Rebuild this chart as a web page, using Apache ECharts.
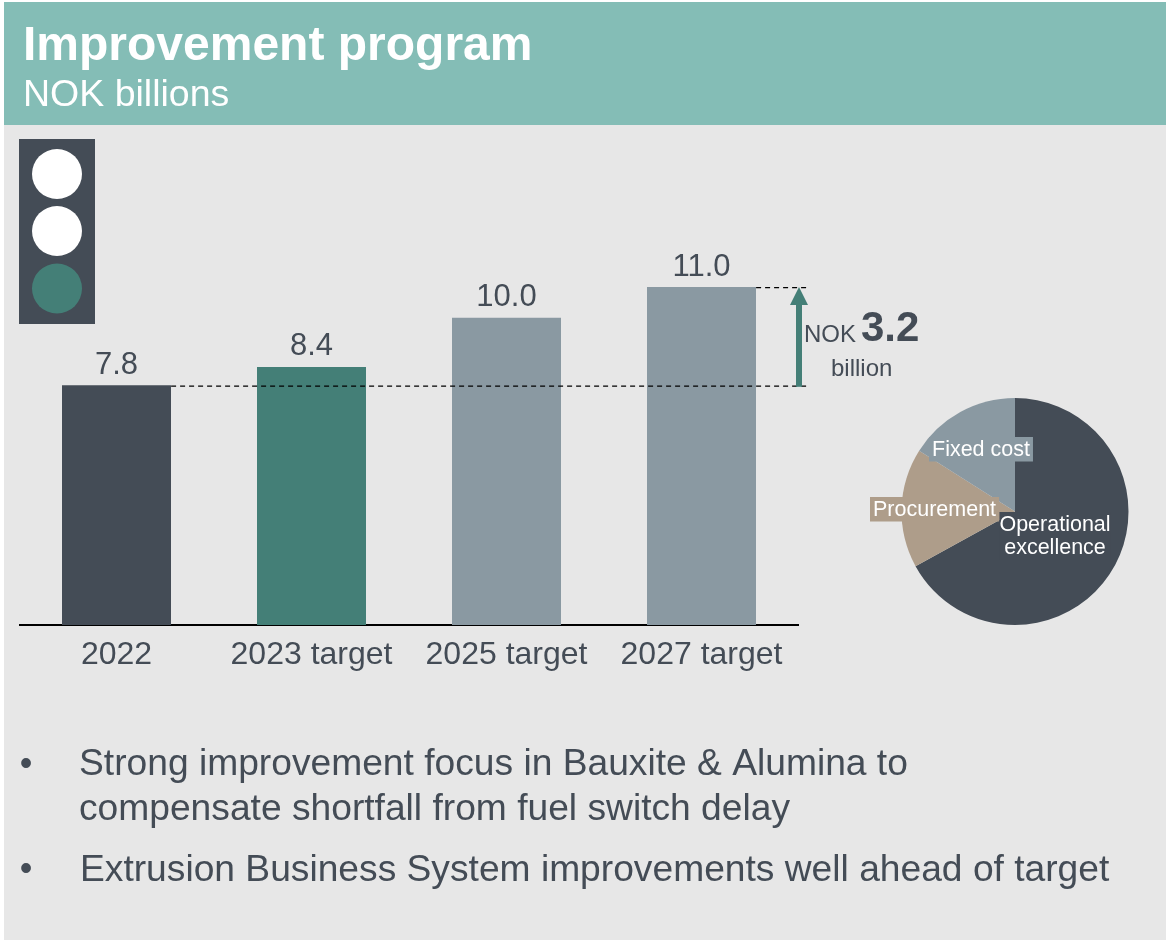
<!DOCTYPE html>
<html><head><meta charset="utf-8">
<style>html,body{margin:0;padding:0;background:#fff}#c{width:1166px;height:940px}</style>
<script src="https://cdn.jsdelivr.net/npm/echarts@6/dist/echarts.min.js"></script>
</head><body><div id="c"></div>
<script>
const categories = ['2022','2023 target','2025 target','2027 target'];
const barValues = [7.8,8.4,10.0,11.0];
const barColors = ['#444c56','#447f77','#8a99a2','#8a99a2'];
const pieNames = ['Operational\nexcellence','Procurement','Fixed cost'];
const pieValues = [67,17,16];
const pieColors = ['#444c56','#ae9d8a','#8a99a2'];
const increase = 3.2;
const FONT = '"Liberation Sans", Arial, sans-serif';
const DARK = '#444c56';

const chart = echarts.init(document.getElementById('c'), null, {renderer:'canvas'});

function guideItem(params, api){
  const from = api.value(0), val = api.value(1);
  const pt = api.coord([from, val]);
  const size = api.size([1,0])[0];
  const barHalf = size*0.28;
  const right = api.coord([3, val])[0] + size*0.5 + 9;
  const left = pt[0] + barHalf;
  return {type:'line', shape:{x1:left,y1:pt[1]+0.7,x2:right,y2:pt[1]+0.7},
    style:{stroke:'#000',lineWidth:1.3,lineDash:[5,4]}};
}
function arrowItem(params, api){
  const lo = api.coord([3, api.value(0)]);
  const hi = api.coord([3, api.value(1)]);
  const x = lo[0] + api.size([1,0])[0]*0.5;
  const top = hi[1], bot = lo[1]+1.5;
  return {type:'group', children:[
    {type:'rect', shape:{x:x-3,y:top+16,width:6,height:bot-top-16}, style:{fill:'#447f77'}},
    {type:'polygon', shape:{points:[[x,top],[x+9,top+18],[x-9,top+18]]}, style:{fill:'#447f77'}}
  ]};
}
function pieLabel(text, left, top, color){
  return {type:'text',left:left,top:top,z:20,style:{text:text,fill:'#fff',font:'21.5px '+FONT,lineHeight:23.5,
    backgroundColor:color,padding:[1,3,0,3]}};
}

chart.setOption({
  animation:false,
  backgroundColor:'#fff',
  graphic:[
    {type:'rect',z:-10,shape:{x:4,y:2,width:1162,height:938},style:{fill:'#e7e7e7'}},
    {type:'rect',z:-9,shape:{x:4,y:2,width:1162,height:123},style:{fill:'#84bdb6'}},
    {type:'text',left:23,top:23,style:{text:'Improvement program',fill:'#fff',font:'bold 48px '+FONT}},
    {type:'text',left:23,top:77,style:{text:'NOK billions',fill:'#fff',font:'37.5px '+FONT}},
    {type:'rect',z:-8,shape:{x:19,y:139,width:76,height:185},style:{fill:DARK}},
    {type:'circle',shape:{cx:57,cy:174,r:25},style:{fill:'#fff'}},
    {type:'circle',shape:{cx:57,cy:231,r:25},style:{fill:'#fff'}},
    {type:'circle',shape:{cx:57,cy:288.5,r:25},style:{fill:'#447f77'}},
    {type:'text',left:804,top:323,style:{text:'NOK',fill:DARK,font:'24px '+FONT}},
    {type:'text',left:861,top:308,style:{text:String(increase),fill:DARK,font:'bold 42px '+FONT}},
    {type:'text',left:831,top:357,style:{text:'billion',fill:DARK,font:'24px '+FONT}},
    {type:'text',left:19.7,top:747,style:{text:'•',fill:DARK,font:'36px '+FONT}},
    {type:'text',left:79,top:742,style:{text:'Strong improvement focus in Bauxite & Alumina to\ncompensate shortfall from fuel switch delay',fill:DARK,font:'37.2px '+FONT,lineHeight:45}},
    {type:'text',left:19.7,top:852,style:{text:'•',fill:DARK,font:'36px '+FONT}},
    {type:'text',left:80,top:852,style:{text:'Extrusion Business System improvements well ahead of target',fill:DARK,font:'37.2px '+FONT}},
    pieLabel(pieNames[2], 929, 437, pieColors[2]),
    pieLabel(pieNames[1], 870, 497, pieColors[1]),
    {type:'text',x:1055,y:512,z:20,style:{text:pieNames[0],fill:'#fff',font:'21.5px '+FONT,lineHeight:23.5,
      align:'center',verticalAlign:'top',backgroundColor:pieColors[0],padding:[1,0,0,0]}}
  ],
  grid:{left:19,top:287,width:780,height:338},
  xAxis:{type:'category',data:categories,axisTick:{show:false},
    axisLine:{lineStyle:{color:'#000',width:2,cap:'butt'}},
    axisLabel:{color:DARK,fontFamily:FONT,fontSize:32,margin:14,interval:0}},
  yAxis:{type:'value',min:0,max:11,show:false,splitLine:{show:false}},
  series:[
    {type:'bar',data:barValues.map((v,i)=>({value:v,itemStyle:{color:barColors[i]}})),barWidth:109,
      label:{show:true,position:'top',distance:4.5,color:DARK,fontFamily:FONT,fontSize:31,formatter:p=>p.value.toFixed(1)}},
    {type:'custom',coordinateSystem:'cartesian2d',renderItem:guideItem,z:5,silent:true,
      data:[[0,barValues[0]],[3,barValues[3]]]},
    {type:'custom',coordinateSystem:'cartesian2d',renderItem:arrowItem,z:6,silent:true,
      encode:{x:[],y:[0,1]},data:[[barValues[0],barValues[3]]]},
    {type:'pie',center:[1015,511.5],radius:[0,113.5],startAngle:90,clockwise:true,silent:true,
      data:pieNames.map((n,i)=>({name:n,value:pieValues[i],itemStyle:{color:pieColors[i]}})),
      label:{show:false},labelLine:{show:false}}
  ]
});
</script></body></html>
